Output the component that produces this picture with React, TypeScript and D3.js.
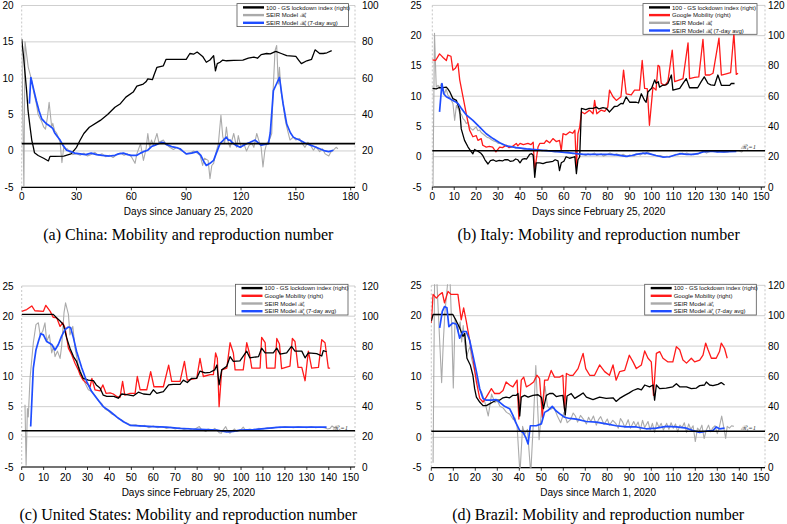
import React from "react";
import * as d3 from "d3";

type P = [number, number];

// ---------- China (a) ----------
const chinaGS: P[] = [[0,81.5],[1,72],[2.7,53],[3.5,42],[4.6,33],[5.5,26],[6.4,22],[7,19],[9,17.5],[12,16],[14.6,14.5],[15.5,17],[18,17],[23,17.2],[27,18.4],[30,22],[32,26],[34,29.6],[37,33],[43,36.8],[47,40],[51,44],[54,46],[57,49.6],[61,52.4],[63,55.6],[66.5,56.8],[68,58],[69,59.6],[71.5,59.2],[72.5,62],[74,66],[77.5,66.8],[79,70.4],[85,70.4],[90,70.4],[92,73.6],[94,73.2],[96,74.4],[97.5,73.2],[99,72],[101,68.8],[103,70],[105,72.4],[106,64],[107,68],[108.5,68.8],[110,70],[112,69.6],[116,69.8],[121,70],[124,71],[127,71.6],[129,71],[131,73],[134,73.6],[136,73.4],[139,74.8],[142,73.6],[145,72.4],[150,72],[151.5,70],[153,68],[156,69.6],[158.6,70.4],[160.5,75.6],[162,74.4],[163,73.6],[165,73.6],[167,74],[169.6,75.2]];
const chinaRt: P[] = [[0,15.2],[1.2,-5],[1.8,15],[3.6,11.5],[5.5,9.7],[6.5,8.2],[8,6.5],[9,5],[10,4.5],[11,4],[12,3.3],[13,3],[14,4.5],[15,6.7],[16.4,3.3],[17,3.8],[18,2.8],[19,2.5],[20,1.9],[21,1.2],[22,-1.6],[23,0.5],[24,0.2],[25,0.3],[26,-0.1],[27,-0.2],[28,-0.5],[30,-0.4],[32,-0.6],[34,-0.3],[36,-0.7],[38,-0.5],[40,-0.2],[42,-0.6],[44,-0.4],[46,-0.8],[48,-0.6],[50,-0.9],[52,-0.5],[54,-0.3],[56,-0.6],[58,-0.4],[60,-0.8],[62,-1.7],[63,-0.4],[65,1],[66.6,-1.3],[68,0.2],[69,2.4],[70,0.5],[71,1.5],[72,0.8],[74,2.4],[75,1.2],[77.5,1.5],[79,0.9],[81,0.5],[83,0.2],[85,0.5],[87,0.1],[89,-0.2],[90,-0.4],[92,-0.3],[94,0],[96,-0.3],[97.6,-0.6],[99,-2],[100,-1],[102,-1.3],[103,-3.8],[104,-2],[105,-1.7],[106,-0.5],[107.6,1],[109,4.9],[110,2],[111,1],[112,3.3],[113,1.2],[114,0.5],[116,2.4],[117.6,0.5],[118.5,2.1],[120,0.5],[121.5,1],[123,0],[124.5,0.8],[126,1],[127,0.5],[128.6,2.4],[130,1.2],[131,0.5],[132,-2.2],[133,0],[134,1],[135.5,1.5],[136.8,2.4],[137.5,8],[138.6,13.8],[139.5,14.5],[140.4,9.2],[141,11.5],[142,8],[143,6.5],[144,4.5],[145,3.3],[146.8,1.5],[148.6,1.9],[150,1.5],[152,1.7],[153.5,1],[155,0.5],[156.5,1.2],[158,0.8],[159.6,0.1],[161,0.6],[163,-0.1],[164.5,0.3],[166,-0.4],[168,-0.7],[169,-0.2],[170.5,0.1],[172,0.5],[173,0.3]];
const chinaRtAvg: P[] = [[4.2,6.5],[5,10.1],[6.5,8.5],[8,6.9],[9.5,5.5],[11,4.4],[12.5,4],[13.7,3.7],[15,3.5],[17,3.1],[18,2.5],[19.5,2],[21,1.5],[22.5,0.8],[24.6,0.1],[27,-0.1],[29,-0.3],[32,-0.4],[35,-0.5],[38,-0.3],[41,-0.5],[44,-0.6],[48,-0.7],[51,-0.6],[53,-0.4],[55.6,-0.3],[58,-0.5],[60,-0.6],[63,-0.6],[65,-0.3],[66.6,-0.1],[69,0.1],[71,0.6],[73,0.8],[76.6,1.2],[78,1.1],[79,0.9],[82,0.6],[84,0.5],[86.6,0.3],[88,0],[90,-0.4],[93,-0.3],[96,-0.1],[98,-0.6],[99.5,-1.4],[101,-2],[103,-1.7],[105,-1.3],[106.5,-0.3],[108.5,1],[110,1.4],[112,1.9],[113,1.5],[114,1.5],[115,1.2],[117,0.8],[119.5,0.5],[121,0.7],[123,1],[125,1.2],[127.7,1.5],[129,1.2],[131,0.8],[133,0.9],[135,1],[136,2.5],[137.7,8.3],[139,9],[141,10.1],[143,6.5],[145,3.7],[147,2.5],[148.6,1.9],[150,1.7],[152,1.5],[155,1.1],[158,0.8],[160,0.6],[163,0.3],[166,0],[168,-0.1],[170.5,0.1]];

// ---------- Italy (b) ----------
const italyGS: P[] = [[0,65.2],[1.8,64.8],[3,65.6],[4.9,65.6],[6.4,66],[7,65],[8,62.8],[9.4,58.4],[11,57.2],[12.5,50.8],[13.2,38.4],[14.7,30.8],[16.3,26.4],[17.8,23.2],[18.5,22],[19.3,24.8],[20.8,23.6],[22,22.5],[23,20.8],[24,18],[25.4,15.2],[26.5,17.5],[27.7,18],[29,17],[30.5,17.6],[32,17.2],[33,18],[34.5,18],[35.5,17],[36.8,17.2],[38,18.5],[39,18],[40,16],[41,18.2],[42,18.8],[43,18.5],[44.4,21.6],[45.3,22],[46,21],[46.7,6.4],[47.4,16],[48.5,16],[49,16],[50.5,15.4],[52,16.2],[53,16.5],[55,17],[56,18],[57.3,17.2],[58,10.8],[58.8,16],[60,17],[61,20],[62.6,19],[64,19.5],[65,20],[65.7,8.8],[66.4,18],[67.2,20],[68,52],[70,51.2],[71.5,52],[73.3,52],[74.8,52.8],[76,51.6],[77.8,52.4],[79.3,52],[80.8,49.6],[83,53.2],[84.5,53.5],[86,55.2],[87,55],[88.4,59.6],[90,56],[91.5,56],[93,56],[94,55.5],[95.3,61.6],[96.8,57.2],[97.5,56],[98.3,62.8],[100,65.2],[101.4,70.8],[102,68.5],[103,69.6],[103.6,66],[105,67.2],[106.5,67.5],[107.4,68.4],[109,74],[109.7,64],[111,64.5],[112.8,65.2],[114.3,68.4],[115.8,71.6],[117.3,65.6],[119,65.6],[121,65.6],[122.6,69.6],[124,72.8],[125.7,68.4],[127,67.5],[128.7,67.2],[130.2,74],[131.8,67.2],[133,67.2],[135.6,67.2],[136.3,68.4],[137.8,68.4]];
const italyMob: P[] = [[0,84],[1.5,83.6],[3.3,88],[4.1,86.8],[4.9,85.6],[6.4,83.6],[7.1,87.2],[8.5,86.4],[9.4,77.2],[10.5,78.4],[11.7,81.6],[12.5,70.8],[14,59.6],[15.5,48.4],[17,37.6],[18.5,33.2],[20,34],[20.8,30.8],[22.3,32],[23,27.6],[24.6,26.4],[26,26.8],[27.5,26.4],[29,23.2],[30.7,26.4],[32,26],[33.7,27.6],[35,26],[36.5,26.8],[38.3,28.8],[39,27.2],[40,28.8],[41.5,28],[43.6,28.8],[45,28],[46,29.6],[46.7,10.8],[48.2,26.4],[49,28.8],[51,28.8],[52,30.8],[53.5,29.2],[55,32],[56.5,30],[58,30.8],[58.8,24],[59.6,35.2],[61,34.5],[62.6,36.4],[64,35.5],[65,37.6],[65.7,13.2],[66.4,35.2],[67.2,39.6],[68,49.6],[69.5,48.4],[71.7,50.8],[73.3,48.4],[74,57.2],[75,48.4],[77,50.8],[78.6,50],[80,52.8],[80.8,64],[82.4,59.6],[83.9,57.2],[86,59.6],[87.2,77.2],[88.4,61.6],[90.7,60.8],[92.2,64],[94.5,64],[95.7,83.6],[96.8,65.2],[98,65],[99,40.8],[100.6,66],[102,64],[102.9,80.4],[103.6,79.6],[104.4,68.4],[106,67.2],[107.4,69.6],[109.4,90.4],[110.5,69.6],[112.8,70.8],[114.3,71.6],[116.6,95.2],[117.3,71.6],[119.6,72.4],[121.5,72.8],[123.4,97.6],[124.5,74],[126.5,74],[128,75.2],[130.7,98.4],[131.8,74],[134,74.8],[136,75.5],[137.5,101.6],[138.6,74.4],[139.4,75.2]];
const italyRt: P[] = [[0.3,-5],[1,20.4],[1.8,11.5],[2.6,11.8],[3.3,11.4],[4.1,12.1],[4.8,11.4],[5.6,10.4],[6.3,11.2],[7.1,10.2],[8,9.8],[8.7,9.3],[9.4,8.8],[10.2,6],[11,8.5],[11.7,8],[12.5,7.2],[13.3,7],[14,6.3],[14.8,6],[15.5,5.5],[16.3,5.7],[17,4.9],[17.8,4.6],[18.5,4.4],[19.3,4.7],[20,4.9],[20.8,4.3],[21.6,4.4],[22.3,4],[23,3.8],[24,3.5],[25,3.2],[26,3.1],[27,2.8],[28,2.6],[29,2.5],[30,2.2],[31,2.3],[32,2],[33,1.9],[34,1.8],[35,1.7],[36,1.6],[37,1.7],[38,1.4],[40,1.5],[42,1.2],[44,1.3],[46,1.1],[48,1.2],[50,1],[52,1.1],[54,0.9],[56,0.8],[58,0.9],[60,0.7],[62,0.8],[64,0.5],[66,0.6],[67,0.3],[68,0.5],[70,0.2],[71,0.5],[72,0.3],[74,0.6],[75,0.2],[77,0.5],[78,0.1],[80,0.4],[81,0.6],[83,0.3],[84,0.5],[86,0.2],[87,0.4],[89,0],[90,0.3],[92,0.1],[93,0.5],[95,0.3],[96,0.7],[97,0.4],[98,0.8],[100,0.4],[101,0.3],[103,0.1],[104,0.2],[106,-0.1],[107,0.1],[108,-0.1],[110,0.2],[111,0.4],[112,0.3],[114,0.6],[115,0.4],[116,0.6],[118,0.3],[119,0.5],[121,0.4],[122,0.6],[124,0.9],[125,0.6],[127,0.9],[128,1],[130,0.8],[131,0.9],[133,0.7],[135,0.8],[136,1],[138,0.9],[139.5,1],[141,0.8],[141.6,0.9]];
const italyRtAvg: P[] = [[3.3,7.4],[4.4,12.1],[5.2,10.4],[6.4,9.9],[8,9.6],[9.4,9.3],[10.5,9.1],[11.7,8.8],[13.2,8],[15.5,6.9],[18.5,6],[21.6,4.9],[24.6,3.8],[27.7,3],[30.7,2.3],[33.7,1.8],[38.3,1.5],[43,1.3],[50.5,1.05],[58,0.8],[65.7,0.5],[68.7,0.4],[73,0.4],[80.8,0.4],[84,0.3],[88.4,0.05],[91,0.2],[93,0.4],[95,0.5],[97.6,0.6],[100,0.4],[102,0.2],[105,-0.05],[108,0],[110,0.2],[112.8,0.5],[116,0.4],[119,0.4],[121,0.5],[123.4,0.8],[126,0.9],[128,0.9],[130,0.8],[132.5,0.8],[135,0.85],[138.6,0.9]];

// ---------- United States (c) ----------
const usGS: P[] = [[0,101.2],[14.4,101.2],[16,98.8],[17.5,96.8],[19,94.4],[20.5,85.6],[22,78.8],[23.6,73.2],[25,70],[26.6,63.2],[28,58.8],[30.4,57.6],[32.7,57.2],[34,54.4],[35.7,52.4],[37.2,47.6],[38.8,46.8],[40.3,46.8],[42,46.8],[44,45.6],[45.6,48.4],[47.9,48],[51,47.2],[53.2,49.6],[55.5,48.4],[58.5,48],[60,51.2],[61.6,48.8],[64.6,50],[67,54.4],[69,54.8],[72.2,54.8],[73.7,57.6],[75.5,56],[77.5,58.8],[79.8,58.8],[81.3,63.6],[83.6,62.4],[85.9,62.8],[88,64.4],[89,67.6],[90,54.4],[91.2,64.4],[93.5,66.8],[95,73.2],[96.5,70],[99.5,70.4],[102.6,76.8],[104,72.4],[108,73.2],[109.4,78.8],[111,75.6],[114.7,75.6],[116.3,78.8],[117.8,74.8],[120.8,75.6],[123,80],[124.6,76.8],[127.7,76.8],[129.2,72.4],[130.7,75.6],[134.5,75.2],[136.8,73.6],[137.5,77.2],[139,76.4]];
const usMob: P[] = [[0,103.2],[2.3,104.4],[4.6,106.8],[6,103.6],[9.9,103.2],[11,107.2],[13,103.2],[14.4,99.2],[16,98.8],[17.5,93.2],[18.7,95.6],[19.8,92],[21.3,78.8],[22.8,74.4],[24.3,68.8],[25.8,64.4],[26.6,61.2],[28,57.6],[29.6,55.6],[31.2,53.2],[32,58.8],[33.4,51.2],[35.7,50.4],[37,54.4],[38.5,48.8],[40.3,49.2],[41.8,48.4],[43.3,46.8],[44.8,46],[46,56.8],[47,47.6],[49.4,48.8],[51.7,48.8],[52.7,60],[54,51.2],[57,51.2],[58.8,63.2],[60.3,53.2],[64.6,53.2],[67,67.6],[68.4,56.8],[72.2,56.8],[74.2,70],[75.5,57.6],[79.8,58.8],[81.3,72],[82.8,60],[85.9,61.2],[87.4,61.2],[88.4,75.6],[89.2,72],[90,40],[91.2,64.4],[93.5,65.6],[95,82.4],[96.5,75.6],[97.3,64.4],[101,64.4],[102.6,82.4],[103.8,75.6],[104.9,65.6],[108.7,65.6],[109.4,86],[111,82.4],[111.7,65.6],[115.5,65.6],[116.3,85.2],[117.5,81.6],[118.5,65.2],[122.3,66.8],[123.4,85.2],[124.6,83.2],[126,66],[127.7,66],[129.2,57.2],[130.7,76.8],[132.2,65.6],[135.3,66],[136.8,84.4],[138.3,82.4],[139.8,65.6],[140.6,65.6]];
const usRt: P[] = [[1.5,5.3],[2,-4.7],[2.6,4.7],[3,3.3],[3.8,9.7],[5.3,15.6],[6.5,18.6],[7.6,18.9],[8.4,16.9],[9.6,17.5],[10.6,18.9],[11.4,15.8],[12.6,16.9],[13.7,13.9],[14.5,15],[15.2,13.3],[16.3,14.2],[17.5,13],[18.2,15],[19.3,20.6],[20,22.2],[21.3,20.3],[22,16.9],[23.3,18.3],[24.3,14.7],[25.8,11.9],[27.4,10.3],[28.9,8.9],[30.4,7.8],[32,7.5],[33.5,6.8],[35,6],[36.5,5.5],[38,4.6],[39.5,4.3],[41,3.8],[42.5,3.6],[44,3],[45.5,2.8],[47,2.4],[48.5,2.2],[50,1.9],[52,2],[54,1.7],[56,1.9],[58,1.5],[60,1.8],[62,1.5],[64,1.7],[66,1.4],[68,1.6],[70,1.3],[72,1.5],[74,1.2],[76,1.4],[78,1.1],[80,1.5],[81,1.7],[82,1.2],[84,0.9],[85,1.3],[87,1.1],[88,1.4],[89,1.1],[90,0.7],[91,0.6],[92,1.2],[93,1.7],[94,0.9],[95,0.6],[96,1],[97,1.3],[98,0.9],[100,1.2],[101,1.6],[102,1.1],[104,1.3],[106,1.1],[108,1.4],[110,1.3],[112,1.5],[114,1.4],[116,1.6],[118,1.5],[120,1.7],[122,1.6],[124,1.5],[126,1.7],[128,1.6],[130,1.5],[132,1.7],[134,1.5],[136,1.6],[138,1.5],[139.5,1.3],[140.6,1.4],[141.5,1.8],[142.5,1.5],[143.5,1.7]];
const usRtAvg: P[] = [[4.1,1.7],[5.3,11.4],[6.5,14.4],[7.6,15.8],[8.7,17.1],[9.9,16.9],[11.4,15.8],[13.7,15.3],[15.2,14.4],[16.7,15.3],[18.2,16.7],[19.8,17.8],[21.3,18.2],[22.3,18.1],[23.6,16.4],[25,14.2],[27.4,11.4],[29.6,9.2],[31.9,7.5],[34.2,6.4],[37.2,5],[40.3,4.2],[43.3,3.3],[46.4,2.5],[49.4,1.9],[54,1.8],[60,1.7],[66,1.6],[72,1.4],[78,1.3],[84,1.2],[89,1.1],[93.5,0.8],[96.5,0.9],[99.5,1.1],[105.6,1.2],[111.7,1.4],[117.8,1.6],[123.9,1.6],[130,1.6],[136,1.6],[139,1.6]];

// ---------- Brazil (d) ----------
const brazilGS: P[] = [[0,96.4],[0.8,100.8],[9.8,100.8],[11.4,96.4],[12.9,92],[14.4,86.4],[15.2,88.4],[16.2,72],[17.7,67.6],[18.9,60.8],[19.7,52],[20.5,46.4],[22,43.2],[23.5,40.8],[25,40.8],[26.5,42],[28,43.2],[29.5,44.4],[31,44.4],[32.6,46],[34,46.4],[35.6,46],[37.1,47.6],[38.6,47.6],[39.4,48.8],[40.2,34],[40.9,46.4],[42.4,47.6],[44,46.4],[46.2,47.6],[48.5,48],[50,46.4],[51,38.8],[52.3,47.6],[53.8,48.8],[55.3,48.8],[56.8,46.8],[58.3,47.2],[59.8,47.6],[60.9,34.8],[61.7,47.2],[63.6,48.8],[65.2,45.6],[67.4,47.6],[69,49.2],[70.5,46.4],[73.5,44.8],[76.5,46.4],[79.5,45.6],[82.6,46],[84,43.6],[85.6,45.6],[87.9,47.6],[90,49.2],[91.7,50.8],[93.9,52],[95.5,51.2],[97,54.4],[99.2,53.2],[100.8,54.4],[101.5,44.4],[102.3,54.4],[103.8,52],[106.8,52.4],[109.8,53.2],[111.4,55.2],[112.9,53.2],[116,53.2],[118.2,52],[120.5,52.4],[122,54],[124.2,54.4],[125,56.4],[126.5,54.4],[128,54],[130.3,54.8],[131.8,56],[133.3,54.4]];
const brazilMob: P[] = [[0,95.2],[0.8,114],[2.3,111.6],[3.8,114],[5,115.2],[6,108.4],[7.6,116],[9,114],[10.6,114],[12.1,114],[13.6,97.2],[14.7,105.2],[15.9,96.4],[17.4,84],[18.9,72],[20.5,56.4],[22,45.6],[23.5,43.2],[25,46.4],[27.3,52],[28.8,48.8],[31,48.8],[32.6,50.8],[34,56.4],[35.6,54.4],[37.1,53.2],[39,57.6],[39.8,32],[40.9,57.6],[42,59.6],[43.2,53.2],[44.7,54.4],[46.5,56.4],[48,60.8],[49.2,58.8],[50.5,33.2],[51.5,57.6],[53,57.6],[54.5,64],[56,59.6],[58.3,59.6],[59.8,60.8],[60.6,37.6],[61.4,62],[62.9,60.8],[64.4,60.8],[66.7,65.2],[69,75.2],[70.2,65.2],[72,60.8],[74.2,60.8],[76.5,67.6],[78.8,63.2],[81,60.8],[82.6,67.6],[84,57.6],[85.6,63.2],[87.9,64],[90,74],[91.7,69.6],[93.2,65.2],[95.5,67.6],[97,76.8],[98.5,72],[100,69.6],[101,47.6],[102.3,75.2],[103.8,76.4],[105.3,72],[107.6,69.6],[109.8,69.6],[111.4,79.6],[112.9,77.6],[114.4,70.8],[116,68.8],[118.2,72],[119.7,69.6],[122,70.8],[123.5,74],[124.7,82],[125.8,77.6],[127.3,72],[129.5,72],[131,76.4],[131.8,82],[133.3,78.4],[134.5,72]];
const brazilRt: P[] = [[0.8,-4.2],[1.5,26],[2.5,26],[3,22],[4.7,9],[5.5,16],[6.2,20.6],[7.6,26],[8.5,26],[9.3,18],[10,8.1],[10.8,19.5],[12.2,17.3],[13.1,19],[13.8,15.7],[14.5,18.4],[15.3,15],[16.1,13.4],[17.6,15],[18.3,13],[19.1,11.8],[20.6,9.6],[21.8,8],[22.9,7.4],[24.4,5.7],[25.9,3.5],[27.4,7.1],[28.9,5.7],[30,6],[31.2,5.1],[32.7,4.8],[34.2,4.1],[35.7,3.8],[37.3,2.9],[38,3.2],[39,1.8],[40.3,-6],[41.5,1.8],[42.5,0.5],[43.7,1.3],[45.2,-6],[46.3,1.8],[47.5,11.8],[49,-0.4],[50.5,6.2],[51.7,8.4],[52.8,5.1],[54.3,4.6],[55.8,4.9],[57.3,3.5],[58.8,2.4],[60.3,4.1],[61.8,2.4],[63.3,2.9],[64.5,4],[65.5,3.5],[66.5,2.5],[67.8,3.6],[69.3,2.9],[70.5,2.2],[71.5,3.3],[72.5,2.6],[73.7,3.5],[75,2],[76,2.9],[77,3.4],[78.5,2.1],[80,3],[81,2],[82.5,2.8],[84,2.2],[85,1.5],[86,3.1],[87,2.5],[88,1.6],[89.5,2.9],[90.5,1.5],[92,2.6],[93,1.8],[94,2.5],[95,1.2],[96,2.8],[97,1.6],[98.5,2.6],[99.5,1.2],[100.5,2.3],[101.5,0.8],[102.5,2.5],[103.5,1.6],[104.5,2.3],[105.5,1.2],[107,2.3],[108,1.3],[109,2.4],[110,1.5],[111,2.2],[112,0.9],[113,2],[114,1.6],[115,2.4],[116,0.8],[117,2.2],[118,1.3],[119,1.9],[120,-0.7],[121,1.5],[122,1.1],[123,2],[124,-0.2],[125,1.2],[126,2],[127,0.9],[128,1.6],[129,1.9],[130,0.6],[131,1.8],[132,3.5],[133,1.5],[133.8,-0.2],[134.5,1.8],[135.5,1.5],[136.5,1.9],[137.5,1.8]];
const brazilRtAvg: P[] = [[3.8,18],[5,20.7],[6,21.5],[7.1,21.3],[8,18.2],[9.8,18.8],[11.4,18.6],[12.9,16.3],[14.4,17.4],[15.9,17.4],[17.4,16],[18.9,13.5],[20.5,10.8],[22,8],[23.5,6.4],[25,6.1],[27.3,6.1],[29.5,6.2],[31,5.8],[33.3,5.1],[35.6,4.7],[37.1,3.6],[38.3,2.5],[40.2,1.1],[41.7,0.8],[42.9,0],[44,-1.1],[45,1.9],[47.7,1.9],[50,2.2],[51.5,4.1],[53,4.4],[55,5.1],[56.5,4.4],[58.3,3.9],[60.6,3.3],[62.9,3.1],[65.9,3],[70.5,2.6],[75,2.5],[79.5,2.2],[84,1.9],[88.6,1.7],[93.2,1.7],[97.7,1.4],[102.3,1.5],[106.8,1.8],[111.4,1.7],[116,1.5],[119,1.1],[122,0.8],[125,1],[128,1.1],[129.5,1.7],[131,1.4],[133.3,1.5]];

// tick labels / text
const legendGS = "100 - GS lockdown index (right)";
const legendMob = "Google Mobility (right)";
const captions = [
  "(a) China: Mobility and reproduction number",
  "(b) Italy: Mobility and reproduction number",
  "(c) United States: Mobility and reproduction number",
  "(d) Brazil: Mobility and reproduction number",
];
const xTitles = [
  "Days since January 25, 2020",
  "Days since February 25, 2020",
  "Days since February 25, 2020",
  "Days since March 1, 2020",
];

const C_BLACK = "#000";
const C_RED = "#ff1a1a";
const C_GRAY = "#aaaaaa";
const C_BLUE = "#1f4dff";
const SANS = "'Liberation Sans', Arial, sans-serif";
const SERIF = "'Liberation Serif', 'DejaVu Serif', serif";

type Panel = {
  id: string;
  xMax: number; xStep: number; xr: [number, number]; pr: number;
  yr: [number, number]; yMax: number; rMax: number;
  leftLabelX: number; rightLabelX: number; tickY: number; xTitleY: number; captionY: number;
  gs: P[]; mob: P[] | null; rt: P[]; avg: P[];
  legend: { x: number; y: number; w: number };
  rtLabel: [number, number] | null;
  idx: number;
};

const panels: Panel[] = [
  { id: "a", idx: 0, xMax: 180, xStep: 30, xr: [21.7, 350.7], pr: 355, yr: [187.3, 5.5], yMax: 20, rMax: 100,
    leftLabelX: 13.5, rightLabelX: 362, tickY: 200, xTitleY: 214.5, captionY: 240,
    gs: chinaGS, mob: null, rt: chinaRt, avg: chinaRtAvg, legend: { x: 237, y: 3.6, w: 111.5 }, rtLabel: null },
  { id: "b", idx: 1, xMax: 150, xStep: 10, xr: [432.3, 761.3], pr: 765, yr: [187, 5.4], yMax: 25, rMax: 120,
    leftLabelX: 421.5, rightLabelX: 768, tickY: 200, xTitleY: 214.5, captionY: 240,
    gs: italyGS, mob: italyMob, rt: italyRt, avg: italyRtAvg, legend: { x: 643, y: 3.6, w: 114 }, rtLabel: [741, 148.5] },
  { id: "c", idx: 2, xMax: 150, xStep: 10, xr: [21.7, 350.7], pr: 355, yr: [467, 286], yMax: 25, rMax: 120,
    leftLabelX: 13.5, rightLabelX: 362, tickY: 480.5, xTitleY: 495.5, captionY: 520,
    gs: usGS, mob: usMob, rt: usRt, avg: usRtAvg, legend: { x: 235.5, y: 284.3, w: 112.5 }, rtLabel: [333, 429.5] },
  { id: "d", idx: 3, xMax: 150, xStep: 10, xr: [431.3, 761.3], pr: 765, yr: [467.7, 285.3], yMax: 25, rMax: 120,
    leftLabelX: 421.5, rightLabelX: 768, tickY: 480.5, xTitleY: 495.5, captionY: 520,
    gs: brazilGS, mob: brazilMob, rt: brazilRt, avg: brazilRtAvg, legend: { x: 644.7, y: 284.3, w: 111.6 }, rtLabel: [741, 429.5] },
];

function Rsym({ size }: { size: number }) {
  return (
    <>
      <tspan fontFamily={SERIF} fontStyle="italic">ℛ</tspan>
      <tspan fontSize={size * 0.7} dy={size * 0.2}>t</tspan>
    </>
  );
}

function PanelView({ p }: { p: Panel }) {
  const x = d3.scaleLinear().domain([0, p.xMax]).range(p.xr);
  const y = d3.scaleLinear().domain([-5, p.yMax]).range(p.yr);
  const yr = d3.scaleLinear().domain([0, p.rMax]).range(p.yr);
  const leftTicks = d3.range(-5, p.yMax + 0.1, 5);
  const rightTicks = d3.range(0, p.rMax + 0.1, 20);
  const xTicks = d3.range(0, p.xMax + 0.1, p.xStep);
  const lineL = d3.line<P>().x((d) => x(d[0])).y((d) => y(d[1]));
  const lineR = d3.line<P>().x((d) => x(d[0])).y((d) => yr(d[1]));
  const left = p.xr[0];
  const right = p.pr;
  const top = p.yr[1];
  const bottom = p.yr[0];
  const clipId = "clip-" + p.id;
  const cx = (left + right) / 2;

  const entries: { label: React.ReactNode; color: string }[] = [
    { label: legendGS, color: C_BLACK },
  ];
  if (p.mob) entries.push({ label: legendMob, color: C_RED });
  entries.push({ label: <>SEIR Model <Rsym size={6} /></>, color: C_GRAY });
  entries.push({ label: <>SEIR Model <Rsym size={6} /><tspan dy={-1.2}> (7-day avg)</tspan></>, color: C_BLUE });
  const rowH = 7.7;
  const legH = 7.6 + (entries.length - 1) * rowH;

  return (
    <g>
      <defs>
        <clipPath id={clipId}>
          <rect x={left} y={top - 1} width={right - left} height={bottom - top + 1} />
        </clipPath>
      </defs>
      {/* grid */}
      {leftTicks.map((t) => (
        <line key={"g" + t} x1={left} x2={right} y1={y(t)} y2={y(t)} stroke="#cfcfcf" strokeWidth={1} />
      ))}
      {/* dashed frame sides */}
      <line x1={left} x2={left} y1={top} y2={bottom} stroke="#b8b8b8" strokeWidth={0.8} strokeDasharray="2,2" />
      <line x1={right} x2={right} y1={top} y2={bottom} stroke="#b8b8b8" strokeWidth={0.8} strokeDasharray="2,2" />
      {/* bottom axis */}
      <line x1={left} x2={right} y1={bottom} y2={bottom} stroke="#000" strokeWidth={1.2} />
      {xTicks.map((t) => (
        <line key={"xt" + t} x1={x(t)} x2={x(t)} y1={bottom} y2={bottom + 3} stroke="#000" strokeWidth={0.8} />
      ))}
      {/* tick labels */}
      {leftTicks.map((t) => (
        <text key={"lt" + t} x={p.leftLabelX} y={y(t)} dy="0.35em" textAnchor="end" fontSize={10} fontFamily={SANS}>{t}</text>
      ))}
      {rightTicks.map((t) => (
        <text key={"rt" + t} x={p.rightLabelX} y={yr(t)} dy="0.35em" textAnchor="start" fontSize={10} fontFamily={SANS}>{t}</text>
      ))}
      {xTicks.map((t) => (
        <text key={"xl" + t} x={x(t)} y={p.tickY} textAnchor="middle" fontSize={10} fontFamily={SANS}>{t}</text>
      ))}
      <text x={cx} y={p.xTitleY} textAnchor="middle" fontSize={10} fontFamily={SANS}>{xTitles[p.idx]}</text>
      <text x={cx} y={p.captionY} textAnchor="middle" fontSize={16} fontFamily={SERIF}>{captions[p.idx]}</text>
      {/* series */}
      <g clipPath={`url(#${clipId})`}>
        <path d={lineL(p.rt) || ""} fill="none" stroke={C_GRAY} strokeWidth={1.1} strokeLinejoin="round" />
        {p.mob && <path d={lineR(p.mob) || ""} fill="none" stroke={C_RED} strokeWidth={1.3} strokeLinejoin="round" />}
        <path d={lineR(p.gs) || ""} fill="none" stroke={C_BLACK} strokeWidth={1.3} strokeLinejoin="round" />
        <path d={lineL(p.avg) || ""} fill="none" stroke={C_BLUE} strokeWidth={1.7} strokeLinejoin="round" />
      </g>
      {/* Rt = 1 line */}
      <line x1={left} x2={right} y1={y(1)} y2={y(1)} stroke="#000" strokeWidth={1.6} />
      {p.rtLabel && (
        <text x={p.rtLabel[0]} y={p.rtLabel[1]} fontSize={6.5} fill="#333" fontFamily={SERIF} fontStyle="italic">
          ℛ<tspan fontSize={4.5} dy={1}>t</tspan><tspan dy={-1}>=1</tspan>
        </text>
      )}
      {/* legend */}
      <g>
        <rect x={p.legend.x} y={p.legend.y} width={p.legend.w} height={legH} fill="#fff" stroke="#555" strokeWidth={0.8} />
        {entries.map((e, i) => {
          const ry = p.legend.y + 3.8 + i * rowH;
          return (
            <g key={"le" + i}>
              <line x1={p.legend.x + 6} x2={p.legend.x + 27} y1={ry} y2={ry} stroke={e.color} strokeWidth={2.4} />
              <text x={p.legend.x + 29} y={ry} dy="0.35em" fontSize={6} fontFamily={SANS} fill="#111">{e.label}</text>
            </g>
          );
        })}
      </g>
    </g>
  );
}

export default function App() {
  return (
    <svg width={787} height={524} style={{ position: "absolute", left: 0, top: 0, background: "#fff" }}>
      <rect x={0} y={0} width={787} height={524} fill="#fff" />
      {panels.map((p) => (
        <PanelView key={p.id} p={p} />
      ))}
    </svg>
  );
}
